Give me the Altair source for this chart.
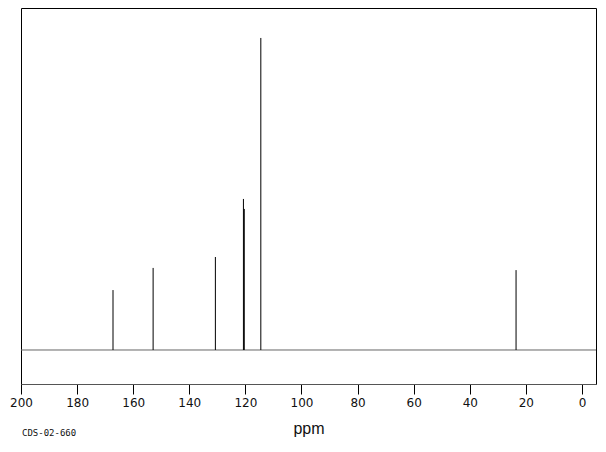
import altair as alt
import pandas as pd

# Peak positions (ppm) and relative intensities (% of tallest peak)
peak_ppm = [167.2, 152.9, 130.7, 120.7, 120.4, 114.5, 23.5]
peak_height = [19.2, 26.3, 29.8, 48.4, 45.2, 100.0, 25.6]

x_domain = [-5, 200]
y_domain = [-10.9, 109.6]
tick_values = list(range(0, 201, 10))
code_label = "CDS-02-660"

peaks = pd.DataFrame({"ppm": peak_ppm, "h": peak_height, "base": [0.0] * len(peak_ppm)})
baseline = pd.DataFrame({"ppm": x_domain, "h": [0.0, 0.0]})

xscale = alt.Scale(domain=x_domain, reverse=True, nice=False, zero=False)
yscale = alt.Scale(domain=y_domain, nice=False, zero=False)

xaxis = alt.Axis(
    values=tick_values,
    labelExpr="datum.value % 20 === 0 ? datum.label : ''",
    tickSize=alt.condition("datum.value % 20 === 0", alt.value(10), alt.value(5)),
    tickColor="#000",
    domainColor="#555",
    grid=False,
    labelFlush=False,
    labelOverlap=False,
    labelFont="DejaVu Sans",
    labelFontSize=12,
    labelColor="#111",
    labelPadding=3,
    title="ppm",
    titleFont="Liberation Sans",
    titleFontSize=16,
    titleFontWeight="normal",
    titleColor="#111",
    titlePadding=12,
)

base_line = alt.Chart(baseline).mark_line(color="#666", strokeWidth=1, clip=True).encode(
    x=alt.X("ppm:Q", scale=xscale, axis=xaxis),
    y=alt.Y("h:Q", scale=yscale, axis=None),
)

peak_rules = alt.Chart(peaks).mark_rule(color="#000", strokeWidth=1).encode(
    x=alt.X("ppm:Q", scale=xscale),
    y=alt.Y("h:Q", scale=yscale),
    y2="base:Q",
)

label = alt.Chart(pd.DataFrame({"t": [code_label]})).mark_text(
    align="left", baseline="middle", font="DejaVu Sans Mono", fontSize=9, color="#111"
).encode(
    x=alt.value(1),
    y=alt.value(425),
    text="t:N",
)

chart = (
    alt.layer(base_line, peak_rules, label)
    .properties(
        width=575,
        height=376,
        autosize=alt.AutoSizeParams(type="none"),
        padding={"left": 13, "top": 0, "right": 2, "bottom": 60},
    )
    .configure(background="white", view=alt.ViewConfig(stroke="#000", strokeWidth=1))
)

chart.save("out.html", embed_options={"renderer": "svg", "actions": False})
